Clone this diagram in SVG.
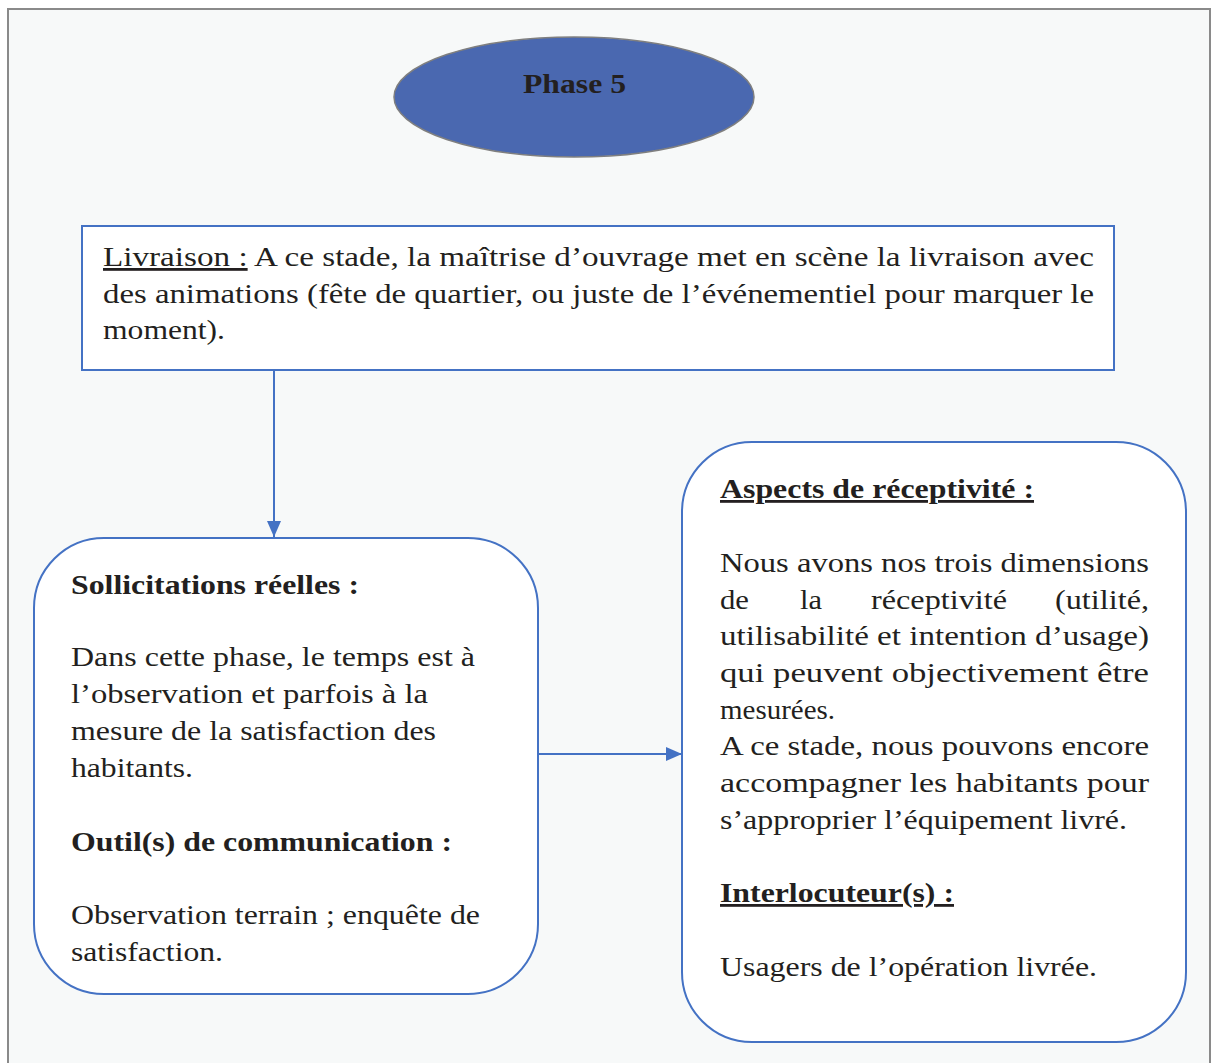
<svg xmlns="http://www.w3.org/2000/svg" width="1213" height="1063" viewBox="0 0 1213 1063">
<defs>
<style>
.t{font-family:"Liberation Serif","Times New Roman",Times,serif;fill:#231f20;font-size:28px}
.b{font-weight:bold}
.u{text-decoration:underline}
.box{fill:#ffffff;stroke:#4472c4;stroke-width:2}
.con{stroke:#4472c4;stroke-width:2;fill:none}
</style>
<marker id="ah" viewBox="0 0 16 14" refX="16" refY="7" markerWidth="16" markerHeight="14" markerUnits="userSpaceOnUse" orient="auto">
<path d="M0,0 L16,7 L0,14 z" fill="#4472c4"/>
</marker>
</defs>
<rect x="0" y="0" width="1213" height="1063" fill="#ffffff"/>
<rect x="8" y="9" width="1202" height="1070" fill="#f7f9f9" stroke="#8a8a8a" stroke-width="2"/>

<g id="phase5">
<ellipse cx="574" cy="97" rx="180" ry="60" fill="#4a68b0" stroke="#7f7f7f" stroke-width="1.5"/>
<text class="t b" x="523" y="93" textLength="103" lengthAdjust="spacingAndGlyphs">Phase 5</text>
</g>

<g id="livraison">
<rect class="box" x="82" y="226" width="1032" height="144"/>
<text class="t" x="103" y="266" textLength="991" lengthAdjust="spacingAndGlyphs"><tspan class="u">Livraison :</tspan> A ce stade, la maîtrise d’ouvrage met en scène la livraison avec</text>
<text class="t" x="103" y="303" textLength="991" lengthAdjust="spacingAndGlyphs">des animations (fête de quartier, ou juste de l’événementiel pour marquer le</text>
<text class="t" x="103" y="339" textLength="122" lengthAdjust="spacingAndGlyphs">moment).</text>
</g>

<g id="connectors">
<path class="con" d="M274,370 L274,537" marker-end="url(#ah)"/>
<path class="con" d="M538,754 L682,754" marker-end="url(#ah)"/>
</g>

<g id="sollicitations">
<rect class="box" x="34" y="538" width="504" height="456" rx="70" ry="70"/>
<text class="t b" x="71" y="594" textLength="288" lengthAdjust="spacingAndGlyphs">Sollicitations réelles :</text>
<text class="t" x="71" y="666" textLength="404" lengthAdjust="spacingAndGlyphs">Dans cette phase, le temps est à</text>
<text class="t" x="71" y="703" textLength="357" lengthAdjust="spacingAndGlyphs">l’observation et parfois à la</text>
<text class="t" x="71" y="740" textLength="365" lengthAdjust="spacingAndGlyphs">mesure de la satisfaction des</text>
<text class="t" x="71" y="777" textLength="122" lengthAdjust="spacingAndGlyphs">habitants.</text>
<text class="t b" x="71" y="851" textLength="381" lengthAdjust="spacingAndGlyphs">Outil(s) de communication :</text>
<text class="t" x="71" y="924" textLength="409" lengthAdjust="spacingAndGlyphs">Observation terrain ; enquête de</text>
<text class="t" x="71" y="961" textLength="152" lengthAdjust="spacingAndGlyphs">satisfaction.</text>
</g>

<g id="receptivite">
<rect class="box" x="682" y="442" width="504" height="600" rx="70" ry="70"/>
<text class="t b u" x="720" y="498" textLength="314" lengthAdjust="spacingAndGlyphs">Aspects de réceptivité :</text>
<text class="t" x="720" y="572" textLength="429" lengthAdjust="spacingAndGlyphs">Nous avons nos trois dimensions</text>
<text class="t" y="609"><tspan x="720" textLength="29" lengthAdjust="spacingAndGlyphs">de</tspan> <tspan x="800" textLength="22" lengthAdjust="spacingAndGlyphs">la</tspan> <tspan x="871" textLength="136" lengthAdjust="spacingAndGlyphs">réceptivité</tspan> <tspan x="1055" textLength="94" lengthAdjust="spacingAndGlyphs">(utilité,</tspan></text>
<text class="t" x="720" y="645" textLength="429" lengthAdjust="spacingAndGlyphs">utilisabilité et intention d’usage)</text>
<text class="t" x="720" y="682" textLength="429" lengthAdjust="spacingAndGlyphs">qui peuvent objectivement être</text>
<text class="t" x="720" y="719" textLength="115" lengthAdjust="spacingAndGlyphs">mesurées.</text>
<text class="t" x="720" y="755" textLength="429" lengthAdjust="spacingAndGlyphs">A ce stade, nous pouvons encore</text>
<text class="t" x="720" y="792" textLength="429" lengthAdjust="spacingAndGlyphs">accompagner les habitants pour</text>
<text class="t" x="720" y="829" textLength="407" lengthAdjust="spacingAndGlyphs">s’approprier l’équipement livré.</text>
<text class="t b u" x="720" y="902" textLength="234" lengthAdjust="spacingAndGlyphs">Interlocuteur(s) :</text>
<text class="t" x="720" y="976" textLength="377" lengthAdjust="spacingAndGlyphs">Usagers de l’opération livrée.</text>
</g>
</svg>
